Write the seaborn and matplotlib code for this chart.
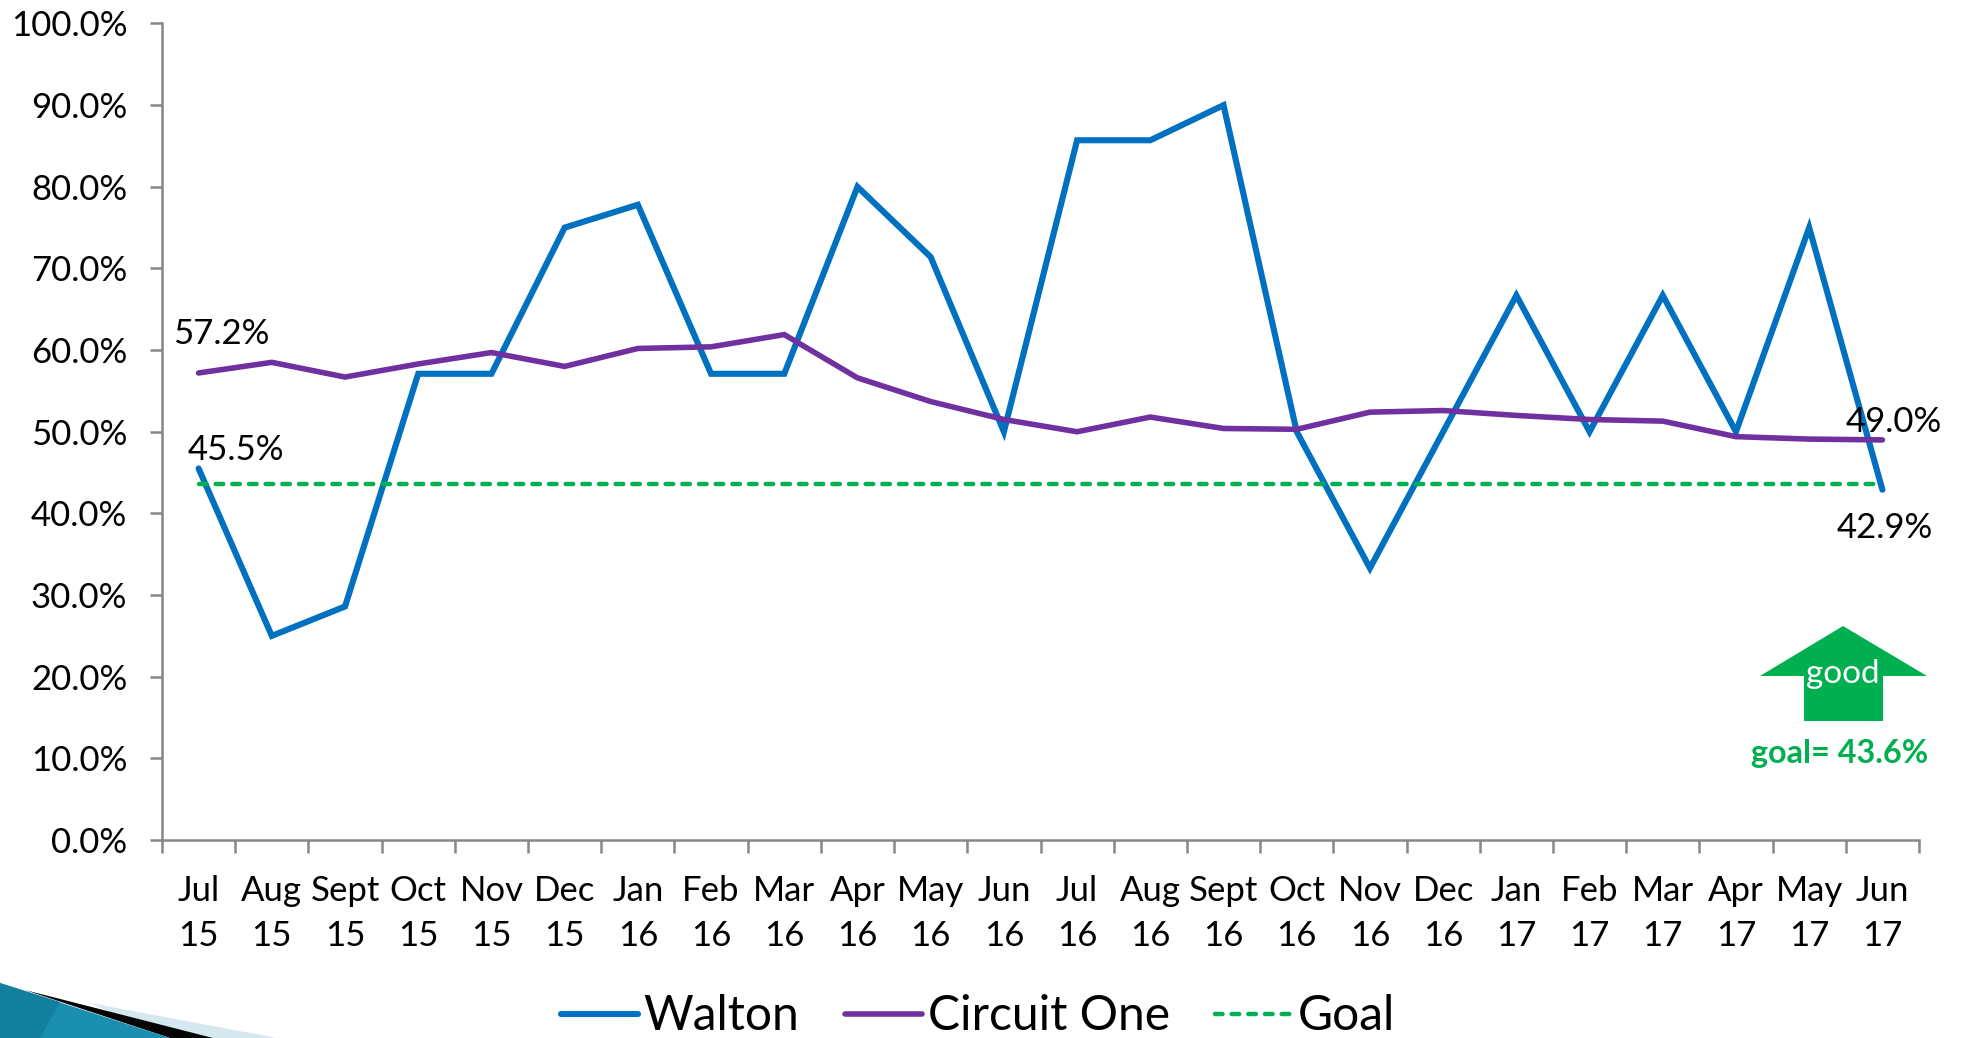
import matplotlib
matplotlib.use('Agg')
import matplotlib.pyplot as plt
from matplotlib.patches import Polygon
import pandas as pd
import seaborn as sns

months = ['Jul', 'Aug', 'Sept', 'Oct', 'Nov', 'Dec', 'Jan', 'Feb', 'Mar', 'Apr', 'May', 'Jun',
          'Jul', 'Aug', 'Sept', 'Oct', 'Nov', 'Dec', 'Jan', 'Feb', 'Mar', 'Apr', 'May', 'Jun']
years = ['15'] * 6 + ['16'] * 12 + ['17'] * 6
walton = [45.5, 25.0, 28.6, 57.1, 57.1, 75.0, 77.8, 57.1, 57.1, 80.0, 71.4, 50.0,
          85.7, 85.7, 90.0, 50.0, 33.3, 50.0, 66.7, 50.0, 66.7, 50.0, 75.0, 42.9]
circuit = [57.2, 58.5, 56.7, 58.3, 59.7, 58.0, 60.2, 60.4, 61.9, 56.6, 53.7, 51.5,
           50.0, 51.8, 50.4, 50.3, 52.4, 52.6, 52.0, 51.5, 51.3, 49.4, 49.1, 49.0]
goal = [43.6] * 24

W, H = 1963, 1038

sns.set_style('white')
plt.rcParams['font.family'] = ['Lato', 'DejaVu Sans']
plt.rcParams['text.color'] = 'black'
plt.rcParams['xtick.labelcolor'] = 'black'
plt.rcParams['ytick.labelcolor'] = 'black'

df = pd.DataFrame({'pos': range(24), 'Walton': walton, 'Circuit One': circuit, 'Goal': goal})
long_df = df.melt(id_vars='pos', var_name='series', value_name='pct')

fig = plt.figure(figsize=(W / 100, H / 100), dpi=100)
ax = fig.add_axes([162 / W, 1 - 840 / H, (1919 - 162) / W, (840 - 23.5) / H])

colors = {'Walton': '#0070C0', 'Circuit One': '#7030A0', 'Goal': '#00B050'}
widths = {'Walton': 4.4, 'Circuit One': 4.0, 'Goal': 3.2}
for name in ['Walton', 'Circuit One', 'Goal']:
    sns.lineplot(data=long_df[long_df['series'] == name], x='pos', y='pct', ax=ax,
                 color=colors[name], label=name, lw=widths[name],
                 ls=(0, (1.7, 2.05)) if name == 'Goal' else '-',
                 solid_capstyle='round', dash_capstyle='round', solid_joinstyle='miter')

ax.set_xlim(-0.5, 23.5)
ax.set_ylim(0, 100)
ax.set_xlabel('')
ax.set_ylabel('')
sns.despine(ax=ax)
for side in ['left', 'bottom']:
    ax.spines[side].set_color('#868686')
    ax.spines[side].set_linewidth(1.8)

ax.set_yticks(range(0, 101, 10))
ax.set_yticklabels([f'{v:.1f}%' for v in range(0, 101, 10)], fontsize=25)
ax.tick_params(axis='y', left=True, length=9, width=1.8, color='#868686', pad=16)

ax.set_xticks(range(24))
ax.set_xticklabels([f'{m}\n{y}' for m, y in zip(months, years)], fontsize=25, linespacing=1.48)
ax.set_xticks([i - 0.5 for i in range(25)], minor=True)
ax.tick_params(axis='x', which='major', bottom=False, pad=22)
ax.tick_params(axis='x', which='minor', bottom=True, length=9, width=1.8, color='#868686')

# point labels
ax.annotate('57.2%', (0, 57.2), xytext=(16, 21), textcoords='offset points', ha='center', fontsize=25)
ax.annotate('45.5%', (0, 45.5), xytext=(27, 6), textcoords='offset points', ha='center', fontsize=25)
ax.annotate('49.0%', (23, 49.0), xytext=(8, 6), textcoords='offset points', ha='center', fontsize=25)
ax.annotate('42.9%', (23, 42.9), xytext=(2, -35), textcoords='offset points', ha='center', fontsize=25)

# good arrow, figure pixels
def px(x, y):
    return (x / W, 1 - y / H)

arrow = [(1843, 626), (1927, 676), (1883, 676), (1883, 721), (1804, 721), (1804, 676), (1760, 676)]
fig.add_artist(Polygon([px(*p) for p in arrow], closed=True, transform=fig.transFigure,
                       fc='#00B050', ec='none'))
fig.text(*px(1843, 674), 'good', color='white', fontsize=24, ha='center', va='center')
fig.text(*px(1840, 753), 'goal= 43.6%', color='#00B050', fontsize=23.3, fontweight='bold',
         ha='center', va='center')

# slide corner decoration
fig.add_artist(Polygon([px(90, 1003), px(277, 1038), px(170, 1038)], transform=fig.transFigure,
                       fc='#D5E8F0', ec='none'))
fig.add_artist(Polygon([px(25, 990), px(213, 1038), px(170, 1038)],
                       transform=fig.transFigure, fc='#050505', ec='none'))
fig.add_artist(Polygon([px(0, 983), px(170, 1038), px(0, 1038)], transform=fig.transFigure,
                       fc='#1A8FB0', ec='none'))
fig.add_artist(Polygon([px(0, 983), px(60, 1002), px(40, 1038), px(0, 1038)], transform=fig.transFigure,
                       fc='#127F9F', ec='none'))

ax.legend(loc='lower center', frameon=False, ncol=3, fontsize=34.6,
          handlelength=1.6, handletextpad=0.12, columnspacing=0.95,
          bbox_to_anchor=(978 / W, -0.042), bbox_transform=fig.transFigure)

fig.savefig('out.png', dpi=100)
